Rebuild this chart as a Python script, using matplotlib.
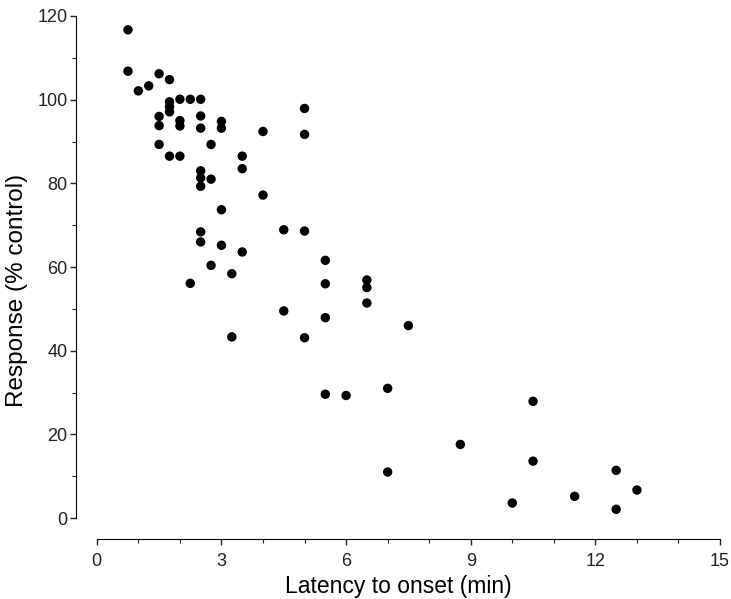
import matplotlib
matplotlib.use("Agg")
import matplotlib.pyplot as plt
from matplotlib.ticker import MultipleLocator

plt.rcParams['font.family'] = ['Liberation Sans', 'DejaVu Sans']

# Latenz bis zum Einsetzen (min) und Antwort (% Kontrolle)
latency = [0.75, 0.75, 1.0, 1.25, 1.5, 1.75, 1.75, 1.75, 1.75, 2.0, 2.25, 2.5,
           1.5, 1.5, 2.0, 2.0, 2.5, 2.5, 3.0, 3.0, 1.5, 2.75, 1.75, 2.0,
           3.5, 3.5, 2.5, 2.5, 2.5, 2.75, 3.0, 2.5, 2.5, 3.0, 3.5, 2.75,
           3.25, 2.25, 3.25, 5.0, 5.0, 4.0, 4.0, 4.5, 5.0, 5.5, 5.5, 4.5,
           5.5, 5.0, 6.5, 6.5, 6.5, 7.5, 5.5, 6.0, 7.0, 7.0, 8.75, 10.5,
           10.5, 10.0, 11.5, 12.5, 12.5, 13.0]
response = [116.7, 106.8, 102.1, 103.3, 106.2, 104.8, 99.5, 98.3, 97.1, 100.1, 100.1, 100.1,
            96.0, 93.8, 95.0, 93.7, 96.1, 93.2, 94.8, 93.2, 89.3, 89.3, 86.5, 86.5,
            86.5, 83.5, 83.0, 81.3, 79.3, 81.0, 73.7, 68.4, 66.0, 65.2, 63.6, 60.4,
            58.4, 56.1, 43.3, 97.9, 91.7, 92.4, 77.2, 68.9, 68.6, 61.6, 56.0, 49.5,
            47.9, 43.1, 56.9, 55.1, 51.4, 46.0, 29.6, 29.3, 31.0, 11.0, 17.6, 27.9,
            13.6, 3.6, 5.2, 11.4, 2.1, 6.7]

fig = plt.figure(figsize=(7.31, 5.99), dpi=100)
ax = fig.add_axes([0.104, 0.1002, 0.881, 0.8731])

ax.scatter(latency, response, s=46, color='black', edgecolors='none', zorder=3)

ax.set_xlim(-0.5, 15)
ax.set_ylim(-5, 120)
ax.spines['top'].set_visible(False)
ax.spines['right'].set_visible(False)
ax.spines['left'].set_bounds(0, 120)
ax.spines['bottom'].set_bounds(0, 15)

ax.xaxis.set_major_locator(MultipleLocator(3))
ax.xaxis.set_minor_locator(MultipleLocator(1))
ax.yaxis.set_major_locator(MultipleLocator(20))
ax.yaxis.set_minor_locator(MultipleLocator(10))
ax.tick_params(which='major', length=4, width=1, labelsize=13, color='#222222', labelcolor='#222222')
ax.tick_params(which='minor', length=3, width=0.8, color='#222222')
ax.tick_params(axis='x', pad=6)
ax.tick_params(axis='y', pad=2)

ax.set_xlabel("Latency to onset (min)", fontsize=16.5, labelpad=4)
ax.set_ylabel("Response (% control)", fontsize=17.5)
ax.yaxis.set_label_coords(-0.074, 0.476)

fig.savefig("out.png", dpi=100)
